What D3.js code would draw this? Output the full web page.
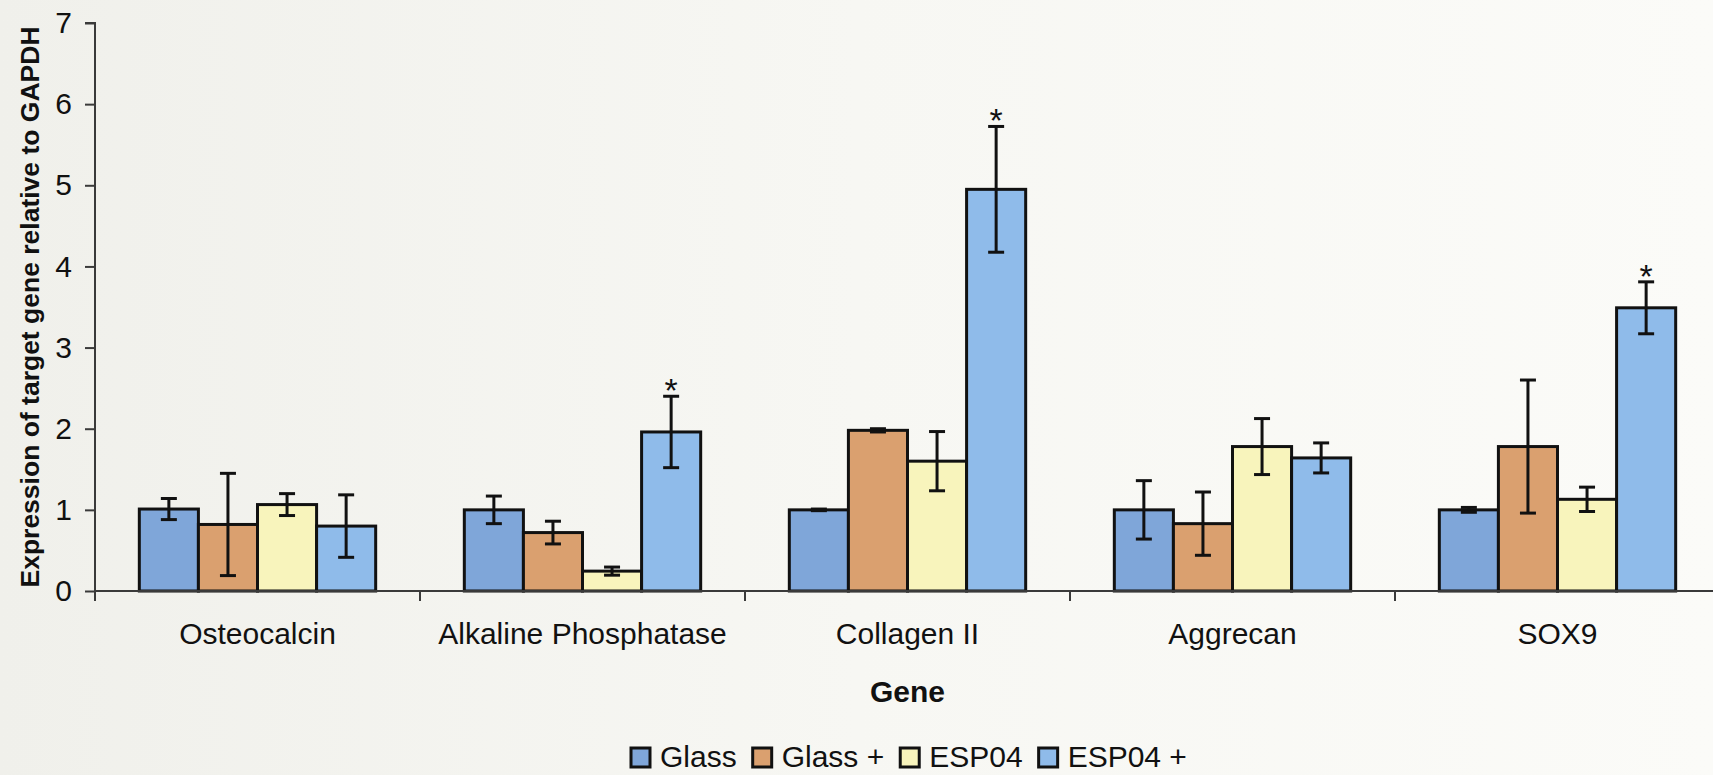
<!DOCTYPE html>
<html>
<head>
<meta charset="utf-8">
<script src="https://cdn.jsdelivr.net/npm/d3@7"></script>
<style>
  html, body { margin: 0; padding: 0; background: #f7f7f3; }
  svg { display: block; }
  text { font-family: "Liberation Sans", Arial, sans-serif; fill: #111; }
</style>
</head>
<body>
<svg id="chart" width="1713" height="775"></svg>
<script>
// Gene expression relative to GAPDH, four substrate conditions per gene
const genes = ["Osteocalcin", "Alkaline Phosphatase", "Collagen II", "Aggrecan", "SOX9"];
const seriesNames = ["Glass", "Glass +", "ESP04", "ESP04 +"];
const seriesColors = ["#7fa6d9", "#daa06f", "#f8f4bc", "#8fbbea"];

const glassMean     = [1.01, 1.00, 1.00, 1.00, 1.00];
const glassErr      = [0.13, 0.17, 0.01, 0.36, 0.03];
const glassPlusMean = [0.82, 0.72, 1.98, 0.83, 1.78];
const glassPlusErr  = [0.63, 0.14, 0.02, 0.39, 0.82];
const esp04Mean     = [1.065, 0.245, 1.60, 1.78, 1.13];
const esp04Err      = [0.135, 0.05, 0.365, 0.345, 0.15];
const esp04PlusMean = [0.80, 1.96, 4.95, 1.64, 3.49];
const esp04PlusErr  = [0.385, 0.44, 0.775, 0.185, 0.32];
// significance markers (ESP04 + condition)
const significant   = [false, true, true, false, true];

const yTicks = [0, 1, 2, 3, 4, 5, 6, 7];

const means = [glassMean, glassPlusMean, esp04Mean, esp04PlusMean];
const errs  = [glassErr, glassPlusErr, esp04Err, esp04PlusErr];

const svg = d3.select("#chart");
const W = 1713, H = 775;

// paper-like background
const defs = svg.append("defs");
const grad = defs.append("linearGradient").attr("id", "bg").attr("x1", 0).attr("x2", 1).attr("y1", 0).attr("y2", 0);
grad.append("stop").attr("offset", 0).attr("stop-color", "#f0f0eb");
grad.append("stop").attr("offset", 0.5).attr("stop-color", "#f7f7f3");
grad.append("stop").attr("offset", 1).attr("stop-color", "#fbfbf8");
svg.append("rect").attr("width", W).attr("height", H).attr("fill", "url(#bg)");

const plot = { left: 95, right: 1720, top: 23, bottom: 591 };

const x0 = d3.scaleBand().domain(genes).range([plot.left, plot.right]).paddingInner(0).paddingOuter(0);
const x1 = d3.scaleBand().domain(seriesNames).range([0, x0.bandwidth()]).paddingInner(0).paddingOuter(0.75);
const y = d3.scaleLinear().domain([0, 7]).range([plot.bottom, plot.top]);

const axisColor = "#3a3a3a";

// bars
const rows = [];
genes.forEach((g, gi) => {
  seriesNames.forEach((s, si) => {
    rows.push({ gene: g, series: s, si, value: means[si][gi], err: errs[si][gi], sig: si === 3 && significant[gi] });
  });
});

const barG = svg.append("g");
barG.selectAll("rect")
  .data(rows)
  .join("rect")
  .attr("x", d => x0(d.gene) + x1(d.series))
  .attr("y", d => y(d.value))
  .attr("width", x1.bandwidth())
  .attr("height", d => y(0) - y(d.value))
  .attr("fill", d => seriesColors[d.si])
  .attr("stroke", "#111")
  .attr("stroke-width", 3);

// error bars
const cap = 8;
const errG = svg.append("g").attr("stroke", "#111").attr("stroke-width", 3);
rows.forEach(d => {
  const cx = x0(d.gene) + x1(d.series) + x1.bandwidth() / 2;
  const yHi = y(d.value + d.err), yLo = y(d.value - d.err);
  errG.append("line").attr("x1", cx).attr("x2", cx).attr("y1", yHi).attr("y2", yLo);
  errG.append("line").attr("x1", cx - cap).attr("x2", cx + cap).attr("y1", yHi).attr("y2", yHi);
  errG.append("line").attr("x1", cx - cap).attr("x2", cx + cap).attr("y1", yLo).attr("y2", yLo);
});

// significance asterisks
svg.append("g").selectAll("text")
  .data(rows.filter(d => d.sig))
  .join("text")
  .attr("x", d => x0(d.gene) + x1(d.series) + x1.bandwidth() / 2)
  .attr("y", d => y(d.value + d.err) + 6)
  .attr("text-anchor", "middle")
  .style("font-size", "34px")
  .text("*");

// y axis
const yAxis = d3.axisLeft(y).tickValues(yTicks).tickSize(10).tickPadding(13).tickFormat(d3.format("d"));
const yG = svg.append("g").attr("transform", `translate(${plot.left},0)`).call(yAxis);
yG.select(".domain").attr("stroke", axisColor).attr("stroke-width", 2).attr("d", `M-10,${plot.top}H0V${plot.bottom + 1}`);
yG.selectAll(".tick line").attr("stroke", axisColor).attr("stroke-width", 2);
yG.selectAll(".tick text").style("font-size", "30px").attr("fill", "#111").attr("font-family", null);

// x axis: baseline with ticks on category boundaries
const bounds = genes.map(g => x0(g)).concat([plot.right]);
const xG = svg.append("g");
xG.append("line").attr("x1", plot.left).attr("x2", plot.right).attr("y1", plot.bottom).attr("y2", plot.bottom)
  .attr("stroke", axisColor).attr("stroke-width", 2);
xG.selectAll("line.tk").data(bounds).join("line").attr("class", "tk")
  .attr("x1", d => d).attr("x2", d => d).attr("y1", plot.bottom).attr("y2", plot.bottom + 10)
  .attr("stroke", axisColor).attr("stroke-width", 2);
xG.selectAll("text").data(genes).join("text")
  .attr("x", d => x0(d) + x0.bandwidth() / 2)
  .attr("y", 644)
  .attr("text-anchor", "middle")
  .style("font-size", "30px")
  .text(d => d);

// axis titles
svg.append("text")
  .attr("transform", `translate(39,${(plot.top + plot.bottom) / 2}) rotate(-90)`)
  .attr("text-anchor", "middle")
  .style("font-size", "26.5px").style("font-weight", "bold")
  .text("Expression of target gene relative to GAPDH");

svg.append("text")
  .attr("x", (plot.left + plot.right) / 2)
  .attr("y", 702)
  .attr("text-anchor", "middle")
  .style("font-size", "30px").style("font-weight", "bold")
  .text("Gene");

// legend
const legend = svg.append("g");
let lx = 631;
seriesNames.forEach((s, i) => {
  legend.append("rect").attr("x", lx).attr("y", 748).attr("width", 19).attr("height", 19)
    .attr("fill", seriesColors[i]).attr("stroke", "#111").attr("stroke-width", 3);
  const t = legend.append("text").attr("x", lx + 29).attr("y", 767).style("font-size", "30px").text(s);
  lx += 29 + t.node().getComputedTextLength() + 16;
});
</script>
</body>
</html>
